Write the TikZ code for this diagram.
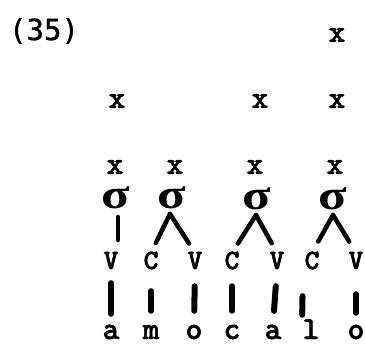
\documentclass[tikz,border=0pt]{standalone}
\usepackage{fontspec}
\newfontfamily\numfont{DejaVu Sans Mono}[FakeBold=1]
\newfontfamily\sylfont{Liberation Serif}
\newfontfamily\segfont{lmmonolt10-bold.otf}[FakeBold=1.5]
\newfontfamily\skelfont{lmmonolt10-bold.otf}[FakeBold=2.2]
\begin{document}
\begin{tikzpicture}[x=1pt,y=-1pt,
  lab/.style={font=\numfont\fontsize{29}{29}\selectfont, inner sep=0pt, anchor=base},
  seg/.style={font=\segfont\fontsize{32}{32}\selectfont, inner sep=0pt, anchor=base, text height=14pt, text depth=0pt},
  skel/.style={font=\skelfont\fontsize{28}{28}\selectfont, inner sep=0pt, anchor=base, text height=16pt, text depth=0pt},
  syl/.style={font=\sylfont\bfseries\fontsize{42}{42}\selectfont, inner sep=0pt, anchor=base, text height=20pt, text depth=0pt, xscale=1.25},
  link/.style={line width=4.5pt, line cap=round},
  assoc/.style={line width=6pt, line cap=round, shorten <=17pt, shorten >=15pt}]
\useasboundingbox (0,0) rectangle (365,345);
\node[lab] (num) at (44,40) {(35)};
% grid marks
\node[seg] (g1) at (337,42) {x};
\node[seg] (g21) at (117,108) {x};
\node[seg] (g22) at (260,108) {x};
\node[seg] (g23) at (337,108) {x};
\node[seg] (g31) at (115,174) {x};
\node[seg] (g32) at (175,174) {x};
\node[seg] (g33) at (255,174) {x};
\node[seg] (g34) at (335,174) {x};
% syllables
\node[syl] (s1) at (116,209) {σ};
\node[syl] (s2) at (172,209) {σ};
\node[syl] (s3) at (257,210) {σ};
\node[syl] (s4) at (333,210) {σ};
% skeleton
\node[skel] (k1) at (111,269) {V};
\node[skel] (k2) at (151,269) {C};
\node[skel] (k3) at (195,269) {V};
\node[skel] (k4) at (232,269) {C};
\node[skel] (k5) at (277,269) {V};
\node[skel] (k6) at (312,269) {C};
\node[skel] (k7) at (356,269) {V};
% melody
\node[seg] (m1) at (111,339) {a};
\node[seg] (m2) at (151,339) {m};
\node[seg] (m3) at (194,339) {o};
\node[seg] (m4) at (232,339) {c};
\node[seg] (m5) at (273,339) {a};
\node[seg] (m6) at (311,339) {l};
\node[seg] (m7) at (356,339) {o};
% syllable links
\coordinate (p1) at (118,217);
\coordinate (p2) at (170,214);
\coordinate (p3) at (256,215);
\coordinate (p4) at (333,215);
\draw[link] (p1) -- (118,240);
\draw[link, shorten >=11pt] (p2) -- (k2.north);
\draw[link, shorten >=11pt] (p2) -- (k3.north);
\draw[link, shorten >=11pt] (p3) -- (k4.north);
\draw[link, shorten >=11pt] (p3) -- (k5.north);
\draw[link, shorten >=13pt] (p4) -- (k6.north);
\draw[link, shorten >=13pt] (p4) -- (k7.north);
% associations
\draw[assoc, shorten <=14pt, shorten >=11pt] (k1.south) -- (m1.north);
\draw[assoc, shorten <=22pt, shorten >=14pt] (k2.south) -- (m2.north);
\draw[assoc, shorten >=14pt] (k3.south) -- (m3.north);
\draw[assoc, shorten >=14pt] (k4.south) -- (m4.north);
\draw[assoc, shorten >=14pt] (k5.south) -- (m5.north);
\draw[assoc, shorten <=27pt, shorten >=10pt] ([xshift=-9pt]k6.south) -- ([xshift=-9pt]m6.north);
\draw[assoc, shorten <=25pt, shorten >=12pt] (k7.south) -- (m7.north);
\end{tikzpicture}
\end{document}
